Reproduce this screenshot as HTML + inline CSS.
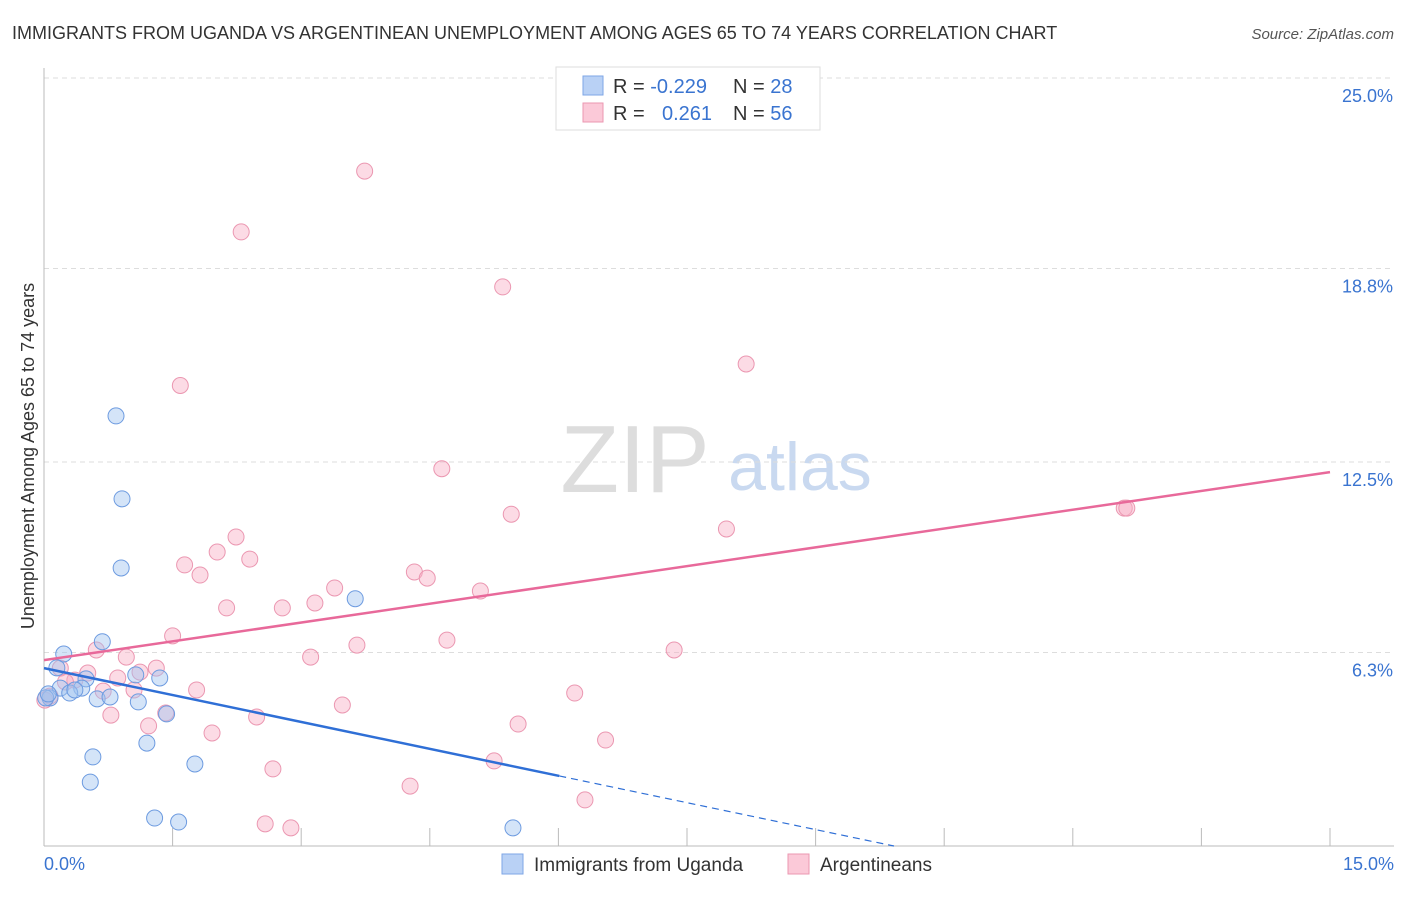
<!DOCTYPE html>
<html><head><meta charset="utf-8"><style>
body{margin:0;background:#fff;font-family:"Liberation Sans",sans-serif}
svg text{font-family:"Liberation Sans",sans-serif}
</style></head><body>
<svg id="c" width="1406" height="892" viewBox="0 0 1406 892">
<text x="12" y="39" font-size="18" fill="#333">IMMIGRANTS FROM UGANDA VS ARGENTINEAN UNEMPLOYMENT AMONG AGES 65 TO 74 YEARS CORRELATION CHART</text>
<text x="1394" y="39" font-size="15" fill="#555" font-style="italic" text-anchor="end">Source: ZipAtlas.com</text>
<text x="635" y="492" font-size="96" fill="#ddd" font-family="Liberation Serif" text-anchor="middle">ZIP</text>
<text x="800" y="490" font-size="68" fill="#c9d9f0" text-anchor="middle">atlas</text>
<g id="grid"></g><g id="axes"></g><g id="pts"></g><g id="lines"></g>
<text transform="translate(34,456) rotate(-90)" font-size="18" fill="#333" text-anchor="middle">Unemployment Among Ages 65 to 74 years</text>
<g>
<rect x="556" y="67" width="264" height="63" fill="#fff" stroke="#ddd"/>
<rect x="583" y="76" width="20" height="19" fill="#b9d1f5" stroke="#7ea6e6"/>
<rect x="583" y="103" width="20" height="19" fill="#fbc9d8" stroke="#eb97b1"/>
<text x="613" y="93" font-size="20" fill="#333">R = <tspan fill="#3a74d0">-0.229</tspan></text>
<text x="733" y="93" font-size="20" fill="#333">N = <tspan fill="#3a74d0">28</tspan></text>
<text x="613" y="120" font-size="20" fill="#333">R = </text><text x="662" y="120" font-size="20" fill="#3a74d0">0.261</text>
<text x="733" y="120" font-size="20" fill="#333">N = <tspan fill="#3a74d0">56</tspan></text>
</g>
<g>
<rect x="502" y="854" width="21" height="20" fill="#b9d1f5" stroke="#7ea6e6"/>
<text x="534" y="871" font-size="19" fill="#333">Immigrants from Uganda</text>
<rect x="788" y="854" width="21" height="20" fill="#fbc9d8" stroke="#eb97b1"/>
<text x="820" y="871" font-size="19" fill="#333">Argentineans</text>
</g>
</svg>
<script>
const yTicks=[6.3,12.5,18.8,25.0];
const xTickCount=10;
const xMax=15;
const blueX=[0.84,0.91,0.90,3.63,0.68,0.23,0.15,0.49,1.07,1.35,0.19,0.44,0.30,0.62,0.77,1.10,0.07,0.02,1.43,1.20,0.57,0.54,1.76,1.29,1.57,5.47,0.05,0.36];
const blueY=[14.0,11.3,9.05,8.05,6.65,6.25,5.8,5.44,5.57,5.47,5.14,5.14,4.98,4.79,4.85,4.69,4.82,4.82,4.30,3.35,2.90,2.08,2.67,0.91,0.78,0.59,4.95,5.08];
const pinkX=[3.74,2.30,5.35,8.19,1.59,4.64,12.60,12.63,5.45,7.96,2.24,2.02,1.64,2.40,1.82,4.32,4.47,3.39,5.09,2.13,2.78,3.16,1.50,4.70,3.65,0.61,0.96,7.35,3.11,1.12,1.31,0.51,0.19,0.86,0.36,0.69,1.05,1.78,6.19,3.48,0.78,1.42,2.48,1.22,5.53,1.96,6.55,2.67,5.25,4.27,6.31,2.58,2.88,0.07,0.25,0.01];
const pinkY=[21.97,19.99,18.2,15.69,14.99,12.28,11.0,11.0,10.8,10.32,10.06,9.57,9.15,9.34,8.82,8.92,8.72,8.4,8.3,7.75,7.75,7.91,6.84,6.7,6.54,6.38,6.15,6.38,6.15,5.66,5.79,5.63,5.79,5.47,5.4,5.04,5.08,5.08,4.98,4.59,4.26,4.33,4.2,3.91,3.97,3.68,3.45,2.51,2.77,1.95,1.5,0.72,0.59,4.88,5.34,4.75];
const pinkTrend=[6.05,12.17];
const blueTrend=[5.79,-0.584,6.01];
const X=v=>44+v/xMax*1286, Y=v=>846-v*30.72;
const NS='http://www.w3.org/2000/svg';
function mk(t,a,p){const e=document.createElementNS(NS,t);for(const k in a)e.setAttribute(k,a[k]);document.getElementById(p).appendChild(e);return e;}
yTicks.forEach(t=>{
 const l=mk('line',{x1:44,x2:1394,y1:Y(t),y2:Y(t),stroke:'#ddd','stroke-dasharray':'5,4'},'grid');
 
 
 const tx=mk('text',{x:1393,y:Y(t)+24,'font-size':18,fill:'#3a74d0','text-anchor':'end'},'grid');
 tx.textContent=t.toFixed(1)+'%';
 
 
});
const ax=mk('line',{x1:44,x2:44,y1:68,y2:846,stroke:'#bbb'},'axes');


const bx=mk('line',{x1:44,x2:1394,y1:846,y2:846,stroke:'#bbb'},'axes');


for(let i=1;i<=xTickCount;i++){
 const v=i*xMax/xTickCount;
 const t=mk('line',{x1:X(v),x2:X(v),y1:828,y2:846,stroke:'#bbb'},'axes');
 
 
}
[[0,'start',44],[xMax,'end',1394]].forEach(([v,a,x])=>{
 const t=mk('text',{x:x,y:870,'font-size':18,fill:'#3a74d0','text-anchor':a},'axes');
 t.textContent=v.toFixed(1)+'%';
 
 
});
pinkX.forEach((x,i)=>{
 const c=mk('circle',{cx:X(x),cy:Y(pinkY[i]),r:8,fill:'rgba(248,176,198,0.45)',stroke:'#eb97b1','stroke-width':1},'pts');
 
 
});
blueX.forEach((x,i)=>{
 const c=mk('circle',{cx:X(x),cy:Y(blueY[i]),r:8,fill:'rgba(160,195,240,0.45)',stroke:'#6d9be0','stroke-width':1},'pts');
 
 
});
const pl=mk('line',{x1:X(0),y1:Y(pinkTrend[0]),x2:X(xMax),y2:Y(pinkTrend[1]),stroke:'#e8699a','stroke-width':2.5},'lines');


const bEnd=blueTrend[2], bY=v=>blueTrend[0]+blueTrend[1]*v, zero=-blueTrend[0]/blueTrend[1];
const bl=mk('line',{x1:X(0),y1:Y(bY(0)),x2:X(bEnd),y2:Y(bY(bEnd)),stroke:'#2f6fd6','stroke-width':2.5},'lines');


const bd=mk('line',{x1:X(bEnd),y1:Y(bY(bEnd)),x2:X(zero),y2:Y(0),stroke:'#2f6fd6','stroke-width':1.2,'stroke-dasharray':'7,5'},'lines');


</script>
</body></html>
